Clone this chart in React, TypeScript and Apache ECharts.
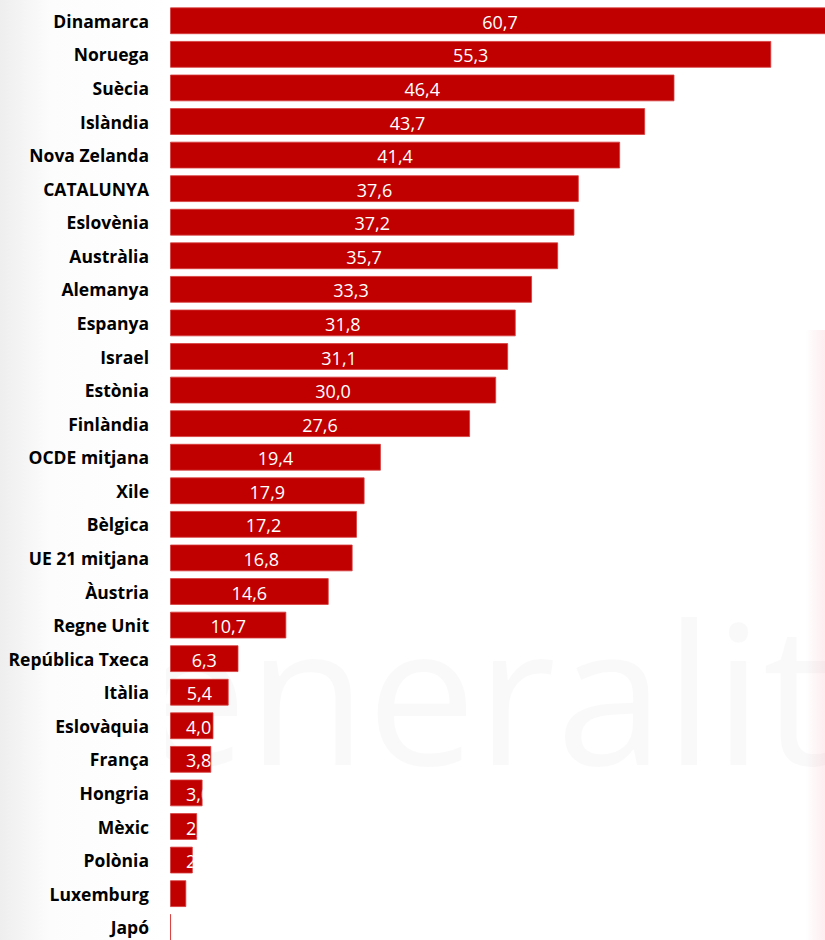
import React, { useEffect, useRef } from "react";
import * as echarts from "echarts";

const categories = [
  "Dinamarca", "Noruega", "Suècia", "Islàndia", "Nova Zelanda", "CATALUNYA",
  "Eslovènia", "Austràlia", "Alemanya", "Espanya", "Israel", "Estònia",
  "Finlàndia", "OCDE mitjana", "Xile", "Bèlgica", "UE 21 mitjana", "Àustria",
  "Regne Unit", "República Txeca", "Itàlia", "Eslovàquia", "França", "Hongria",
  "Mèxic", "Polònia", "Luxemburg", "Japó",
];

const values = [
  60.7, 55.3, 46.4, 43.7, 41.4, 37.6, 37.2, 35.7, 33.3, 31.8, 31.1, 30.0,
  27.6, 19.4, 17.9, 17.2, 16.8, 14.6, 10.7, 6.3, 5.4, 4.0, 3.8, 3.0,
  2.5, 2.1, 1.5, 0.1,
];

const valueLabels = values.map((v) => v.toFixed(1).replace(".", ","));

const LABEL_FONT = "18px 'Open Sans'";

let measureCtx: CanvasRenderingContext2D | null = null;
function measure(t: string): number {
  if (!measureCtx) {
    const c = document.createElement("canvas");
    measureCtx = c.getContext("2d");
  }
  if (!measureCtx) return t.length * 10;
  measureCtx.font = LABEL_FONT;
  return measureCtx.measureText(t).width;
}

export default function App() {
  const ref = useRef<HTMLDivElement>(null);

  useEffect(() => {
    if (!ref.current) return;
    const chart = echarts.init(ref.current, undefined, { renderer: "svg" });
    chart.setOption({
      animation: false,
      backgroundColor: "#ffffff",
      graphic: [
        {
          type: "text",
          x: -4,
          y: 689,
          z: -10,
          silent: true,
          style: {
            text: "Generalitat",
            font: "195px 'Open Sans'",
            fill: "rgba(0,0,0,0.022)",
            align: "left",
            verticalAlign: "middle",
          },
        },
        {
          type: "rect",
          x: 0,
          y: 0,
          z: -5,
          silent: true,
          shape: { width: 166, height: 950 },
          style: {
            fill: new echarts.graphic.LinearGradient(0, 0, 1, 0, [
              { offset: 0, color: "#eeeeee" },
              { offset: 0.3, color: "#fcfcfc" },
              { offset: 1, color: "#ffffff" },
            ]),
          },
        },
        {
          type: "rect",
          x: 805,
          y: 330,
          z: -10,
          silent: true,
          shape: { width: 20, height: 620 },
          style: {
            fill: new echarts.graphic.LinearGradient(0, 0, 1, 0, [
              { offset: 0, color: "rgba(230,0,40,0)" },
              { offset: 1, color: "rgba(230,0,40,0.07)" },
            ]),
          },
        },
      ],
      grid: { left: 170, top: 4, width: 660, height: 940, containLabel: false },
      xAxis: {
        type: "value",
        min: 0,
        max: 60.7,
        show: false,
      },
      yAxis: {
        type: "category",
        data: categories,
        inverse: true,
        axisLine: { show: false },
        axisTick: { show: false },
        splitLine: { show: false },
        axisLabel: {
          margin: 21,
          color: "#000000",
          fontFamily: "Open Sans",
          fontWeight: "bold",
          fontSize: 17.5,
        },
      },
      series: [
        {
          type: "bar",
          data: values,
          barCategoryGap: "20%",
          itemStyle: {
            color: "#C00000",
            borderColor: "rgba(215,60,60,0.8)",
            borderWidth: 1,
          },
          silent: true,
        },
        {
          type: "custom",
          data: values.map((v, i) => [v, i]),
          encode: { x: 0, y: 1 },
          silent: true,
          z: 5,
          renderItem: (params: any, api: any) => {
            const idx = api.value(1);
            const v = api.value(0);
            const start = api.coord([0, idx]);
            const end = api.coord([v, idx]);
            const band = api.size([0, 1])[1];
            const h = band * 0.8;
            const w = end[0] - start[0];
            const txt = valueLabels[params.dataIndex];
            const tw = measure(txt);
            const cx = Math.max((start[0] + end[0]) / 2, start[0] + 16 + tw / 2);
            return {
              type: "group",
              clipPath: {
                type: "rect",
                shape: { x: start[0], y: start[1] - h / 2, width: w, height: h },
              },
              children: [
                {
                  type: "text",
                  x: cx,
                  y: start[1] + 1,
                  style: {
                    text: txt,
                    fill: "#ffffff",
                    font: LABEL_FONT,
                    align: "center",
                    verticalAlign: "middle",
                  },
                },
              ],
            };
          },
        },
      ],
    });
    return () => chart.dispose();
  }, []);

  return (
    <div
      style={{
        position: "absolute",
        left: 0,
        top: 0,
        width: 825,
        height: 940,
        overflow: "hidden",
        background: "#fff",
      }}
    >
      <div ref={ref} style={{ width: 840, height: 950 }} />
    </div>
  );
}
